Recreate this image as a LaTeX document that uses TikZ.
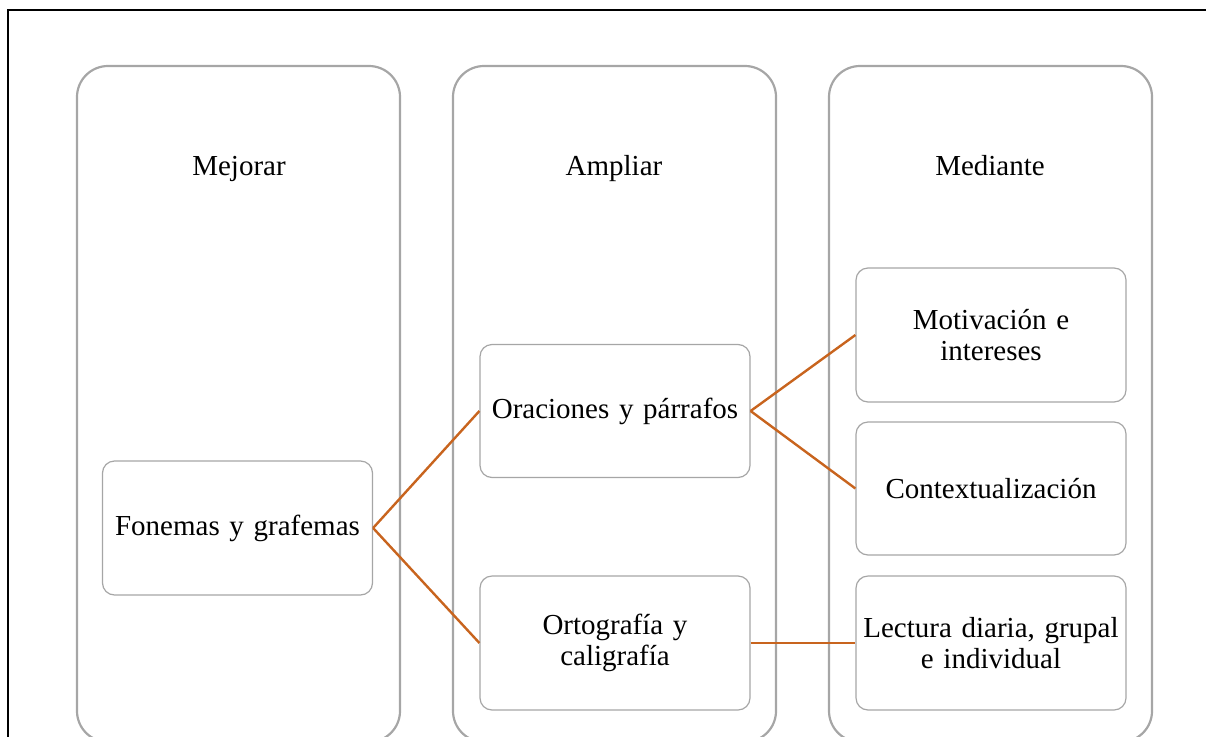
\documentclass[tikz,border=0pt]{standalone}
\usepackage{fontspec}
\setmainfont{Liberation Serif}
\begin{document}
\begin{tikzpicture}[x=1pt,y=-1pt,
  colbox/.style={draw=colgray,line width=2.2pt,rounded corners=31pt},
  item/.style={draw=colgray,line width=1.2pt,rounded corners=12pt,fill=white,
    text width=262pt,align=center,inner xsep=4pt,inner ysep=0pt,
    minimum height=134pt,font=\fontsize{29}{31}\selectfont},
  head/.style={anchor=base,inner sep=0pt,font=\fontsize{29}{31}\selectfont},
  conn/.style={draw=connor,line width=2.4pt}]
\definecolor{colgray}{HTML}{A6A6A6}
\definecolor{connor}{HTML}{C8641E}
\useasboundingbox (0,0) rectangle (1206,736);
\clip (0,0) rectangle (1206,736);
% outer frame
\draw[line width=1.6pt] (8,740) -- (8,10) -- (1210,10);
% columns
\draw[colbox] (77,66) rectangle (400,742);
\draw[colbox] (453,66) rectangle (776,742);
\draw[colbox] (829,66) rectangle (1152,742);
% headings
\node[head] (h1) at (239,175) {Mejorar};
\node[head] (h2) at (614,175) {Ampliar};
\node[head] (h3) at (990,175) {Mediante};
% items
\node[item] (fon) at (237.5,528) {Fonemas y grafemas};
\node[item,minimum height=133pt] (ora) at (615,411) {Oraciones y p\'arrafos};
\node[item] (ort) at (615,643) {Ortograf\'ia y\\ caligraf\'ia};
\node[item] (mot) at (991,335) {Motivaci\'on e\\ intereses};
\node[item,minimum height=133pt] (ctx) at (991,488.5) {Contextualizaci\'on};
\node[item] (lec) at (991,643) {Lectura diaria, grupal\\ e individual};
% connectors
\draw[conn] (fon.east) -- (ora.west);
\draw[conn] (fon.east) -- (ort.west);
\draw[conn] (ora.east) -- (mot.west);
\draw[conn] (ora.east) -- (ctx.west);
\draw[conn] (ort.east) -- (lec.west);
\end{tikzpicture}
\end{document}
